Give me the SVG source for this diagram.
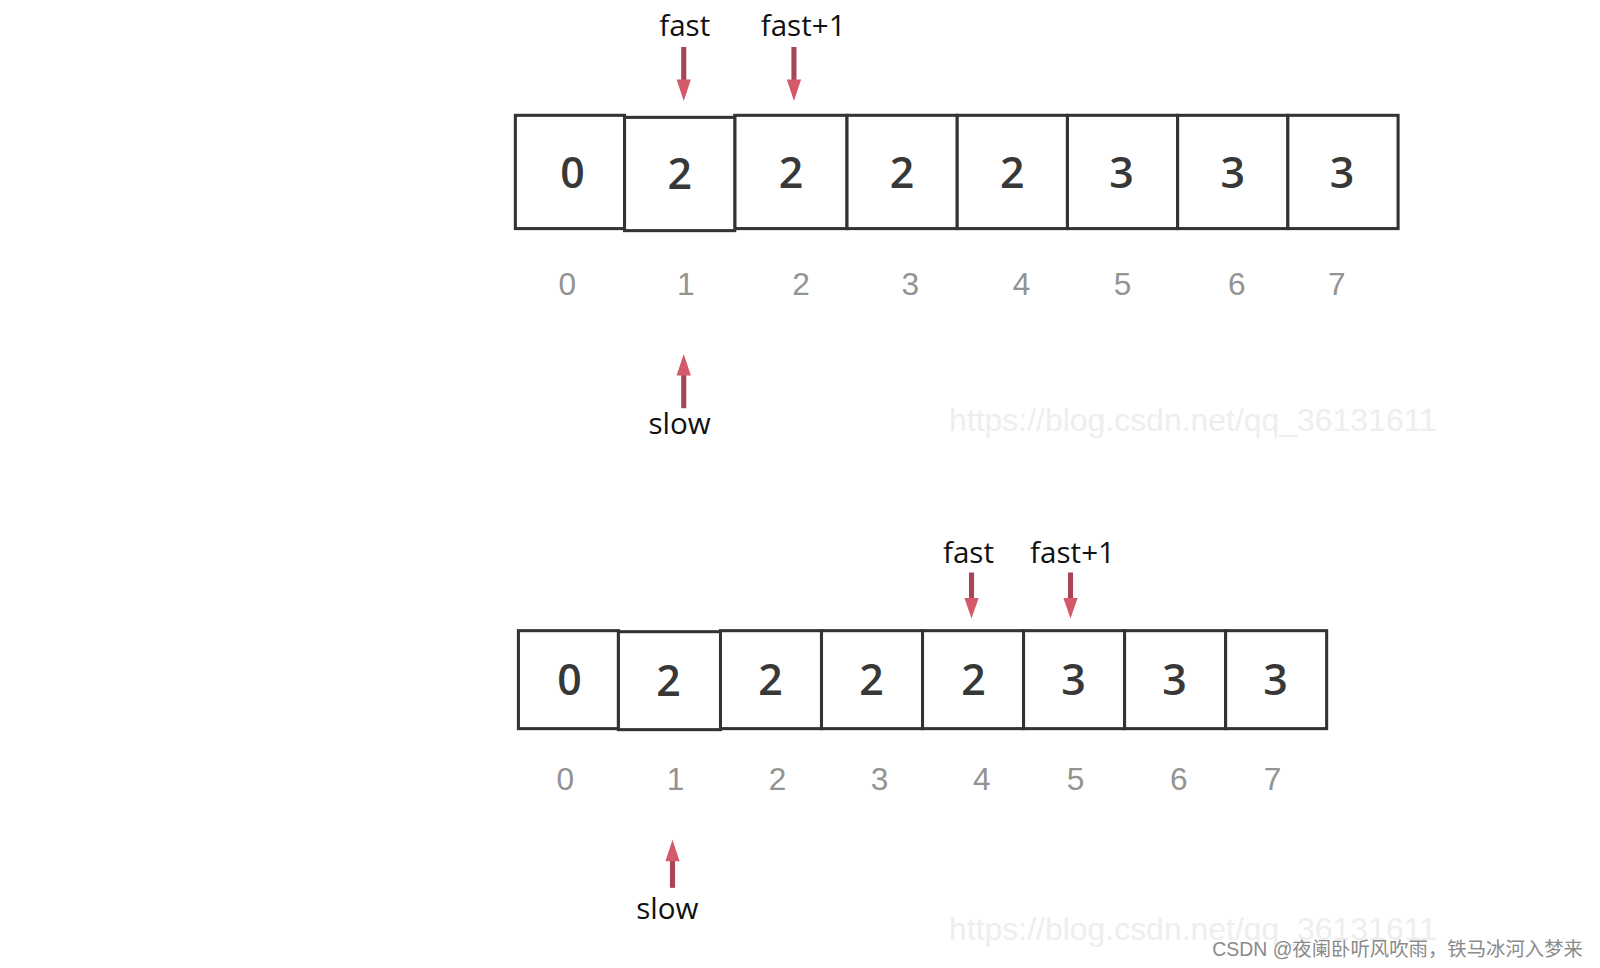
<svg xmlns="http://www.w3.org/2000/svg" width="1600" height="968" viewBox="0 0 1600 968">
<style>
.cell{fill:#fff;stroke:#333;stroke-width:3}
.val{font-family:"Open Sans","Liberation Sans",sans-serif;font-size:42px;font-weight:600;fill:#383838;text-anchor:middle}
.idx{font-family:"Liberation Sans",sans-serif;font-size:31px;fill:#939393;text-anchor:middle}
.lbl{font-family:"Open Sans","Noto Sans",sans-serif;font-size:29px;fill:#111;text-anchor:middle}
.wm{font-family:"Liberation Sans",sans-serif;font-size:31.3px;fill:#eeeeee}
.shaft{stroke:#a84556;stroke-width:5;fill:none}
.head{fill:#d45a6a}
</style>
<rect width="1600" height="968" fill="#fff"/>
<g transform="scale(1.0205)">
<g id="watermarks">
<text class="wm" x="930" y="422">https://blog.csdn.net/qq_36131611</text>
<text class="wm" x="930" y="921">https://blog.csdn.net/qq_36131611</text>
</g>
<g id="array1">
<rect class="cell" x="505" y="113" width="107" height="111"/>
<rect class="cell" x="720" y="113" width="110" height="111"/>
<rect class="cell" x="830" y="113" width="108" height="111"/>
<rect class="cell" x="938" y="113" width="108" height="111"/>
<rect class="cell" x="1046" y="113" width="108" height="111"/>
<rect class="cell" x="1154" y="113" width="108" height="111"/>
<rect class="cell" x="1262" y="113" width="108" height="111"/>
<rect class="cell" x="612" y="115" width="108" height="111"/>
<text class="val" x="561" y="184">0</text>
<text class="val" x="666" y="185">2</text>
<text class="val" x="775" y="184">2</text>
<text class="val" x="884" y="184">2</text>
<text class="val" x="992" y="184">2</text>
<text class="val" x="1099" y="184">3</text>
<text class="val" x="1208" y="184">3</text>
<text class="val" x="1315" y="184">3</text>
</g>
<g id="index1">
<text class="idx" x="556" y="289">0</text>
<text class="idx" x="672" y="289">1</text>
<text class="idx" x="785" y="289">2</text>
<text class="idx" x="892" y="289">3</text>
<text class="idx" x="1001" y="289">4</text>
<text class="idx" x="1100" y="289">5</text>
<text class="idx" x="1212" y="289">6</text>
<text class="idx" x="1310" y="289">7</text>
</g>
<g id="labels1">
<text class="lbl" x="671" y="35">fast</text>
<text class="lbl" x="787" y="35">fast+1</text>
<text class="lbl" x="666" y="425">slow</text>
</g>
<g id="array2">
<rect class="cell" x="508" y="618" width="98" height="96"/>
<rect class="cell" x="706" y="618" width="99" height="96"/>
<rect class="cell" x="805" y="618" width="99" height="96"/>
<rect class="cell" x="904" y="618" width="99" height="96"/>
<rect class="cell" x="1003" y="618" width="99" height="96"/>
<rect class="cell" x="1102" y="618" width="99" height="96"/>
<rect class="cell" x="1201" y="618" width="99" height="96"/>
<rect class="cell" x="606" y="619" width="100" height="96"/>
<text class="val" x="558" y="681">0</text>
<text class="val" x="655" y="682">2</text>
<text class="val" x="755" y="681">2</text>
<text class="val" x="854" y="681">2</text>
<text class="val" x="954" y="681">2</text>
<text class="val" x="1052" y="681">3</text>
<text class="val" x="1151" y="681">3</text>
<text class="val" x="1250" y="681">3</text>
</g>
<g id="index2">
<text class="idx" x="554" y="774">0</text>
<text class="idx" x="662" y="774">1</text>
<text class="idx" x="762" y="774">2</text>
<text class="idx" x="862" y="774">3</text>
<text class="idx" x="962" y="774">4</text>
<text class="idx" x="1054" y="774">5</text>
<text class="idx" x="1155" y="774">6</text>
<text class="idx" x="1247" y="774">7</text>
</g>
<g id="labels2">
<text class="lbl" x="949" y="552">fast</text>
<text class="lbl" x="1051" y="552">fast+1</text>
<text class="lbl" x="654" y="901">slow</text>
</g>
<g id="connectors">
<line class="shaft" x1="670" y1="46" x2="670" y2="80"/>
<polygon class="head" points="663,78 677,78 670,99"/>
<line class="shaft" x1="778" y1="46" x2="778" y2="80"/>
<polygon class="head" points="771,78 785,78 778,99"/>
<line class="shaft" x1="670" y1="400" x2="670" y2="366"/>
<polygon class="head" points="663,368 677,368 670,347"/>
<line class="shaft" x1="952" y1="561" x2="952" y2="588"/>
<polygon class="head" points="945,586 959,586 952,606"/>
<line class="shaft" x1="1049" y1="561" x2="1049" y2="588"/>
<polygon class="head" points="1042,586 1056,586 1049,606"/>
<line class="shaft" x1="659" y1="870" x2="659" y2="842"/>
<polygon class="head" points="652,844 666,844 659,823"/>
</g>
<g id="credit">
<text x="1188" y="937" font-family="Liberation Sans,'Noto Sans CJK SC',sans-serif" font-size="19" fill="#8a8a8a">CSDN @夜阑卧听风吹雨，铁马冰河入梦来</text>
</g>
</g>
</svg>
